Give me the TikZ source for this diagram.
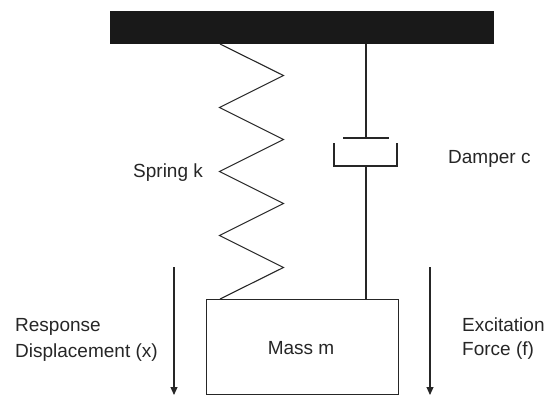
\documentclass[tikz,border=0pt]{standalone}
\usepackage{fontspec}
\setmainfont{Liberation Sans}
\usetikzlibrary{arrows.meta}
\begin{document}
\begin{tikzpicture}[x=1pt,y=-1pt,
  ln/.style={line width=1.1pt,draw=black!85},
  lbl/.style={inner sep=0pt,anchor=base west,font=\fontsize{19}{24}\selectfont,text=black!85},
  motion/.style={ln,-{Triangle[length=8pt,width=7pt]}}]
\useasboundingbox (0,0) rectangle (548,396);
% support
\node[fill=black!90,draw=none,minimum width=384pt,minimum height=33pt,inner sep=0pt,anchor=north west] (bar) at (110,11) {};
% mass
\node[ln,fill=white,minimum width=192pt,minimum height=95pt,inner sep=0pt,anchor=north west] (mass) at (206,299) {};
\node[lbl,anchor=base] (massl) at (301,354) {Mass m};
% spring
\coordinate (s0) at (220,44);
\coordinate (s8) at (220,299);
\draw[ln,line join=miter] (s0) -- (283.5,75.5) -- (219.5,107.5) -- (283.5,139.5) -- (219.5,171.5)
  -- (283.5,203.5) -- (219.5,235.5) -- (283.5,267.5) -- (s8);
% damper
\coordinate (d0) at (366,44);
\coordinate (dp) at (366,138);
\coordinate (dc) at (366,166);
\coordinate (d1) at (366,299);
\draw[ln] (d0) -- (dp);
\draw[ln] (343,138) -- (389,138);
\draw[ln] (334,143) -- (334,166) -- (397,166) -- (397,143);
\draw[ln] (dc) -- (d1);
% arrows
\coordinate (a1) at (174,267);
\coordinate (a2) at (174,395);
\coordinate (b1) at (430,267);
\coordinate (b2) at (430,395);
\draw[motion] (a1) -- (a2);
\draw[motion] (b1) -- (b2);
% labels
\node[lbl] (spr) at (133,177) {Spring k};
\node[lbl] (dmp) at (448,163) {Damper c};
\node[lbl] (resp1) at (15,331) {Response};
\node[lbl] (resp2) at (15,357) {Displacement (x)};
\node[lbl] (exc1) at (462,331) {Excitation};
\node[lbl] (exc2) at (462,355) {Force (f)};
\end{tikzpicture}
\end{document}
